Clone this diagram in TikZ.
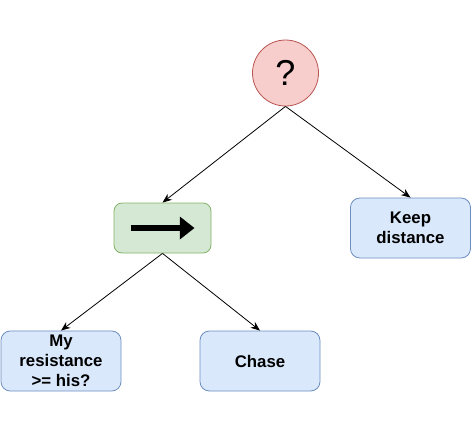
\documentclass[tikz,border=0pt]{standalone}
\usepackage{fontspec}
\setmainfont{Liberation Sans}
\usetikzlibrary{arrows.meta}

\definecolor{selfill}{HTML}{F8CECC}
\definecolor{selline}{HTML}{B85450}
\definecolor{seqfill}{HTML}{D5E8D4}
\definecolor{seqline}{HTML}{82B366}
\definecolor{actfill}{HTML}{DAE8FC}
\definecolor{actline}{HTML}{6C8EBF}

\begin{document}
\begin{tikzpicture}[x=0.75pt,y=-0.75pt,
    action/.style={draw=actline,fill=actfill,line width=0.6pt,rounded corners=7pt,
      minimum width=90pt,minimum height=45pt,align=center,
      font=\bfseries\fontsize{12.6}{14.8}\selectfont},
    edge/.style={line width=0.6pt,-{Stealth[length=7pt,width=5.5pt]}}]
        \useasboundingbox (0,0) rectangle (473,436);
        % selector
        \node[circle,draw=selline,fill=selfill,line width=0.6pt,minimum size=49.5pt,
          inner sep=0pt,font=\fontsize{27}{30}\selectfont] (sel) at (285.5,73) {?};
        % sequence
        \node[draw=seqline,fill=seqfill,line width=0.6pt,rounded corners=6pt,
          minimum width=72.75pt,minimum height=37.5pt] (seq) at (162.5,228) {};
        \draw[line width=5pt,-{Triangle[length=11pt,width=16.5pt]}]
          ([xshift=-24pt]seq.center) -- ([xshift=24pt]seq.center);
        % leaves
        \node[action] (keep) at (410.5,228) {Keep\\distance};
        \node[action] (res) at (61,361) {My\\resistance\\>= his?};
        \node[action] (chase) at (260,361) {Chase};
        \draw[edge] (sel.south) -- (seq.north);
        \draw[edge] (sel.south) -- (keep.north);
        \draw[edge] (seq.south) -- (res.north);
        \draw[edge] (seq.south) -- (chase.north);
      \end{tikzpicture}
\end{document}
